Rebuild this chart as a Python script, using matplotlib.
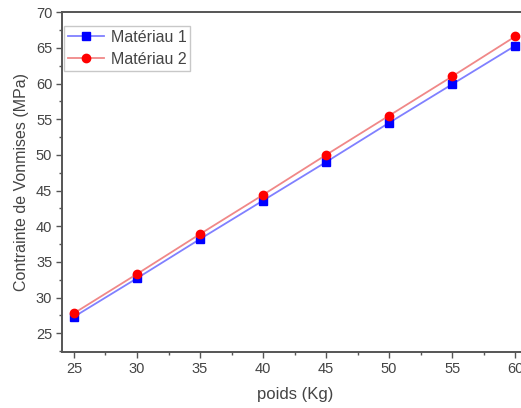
import matplotlib
matplotlib.use("Agg")
import matplotlib.pyplot as plt
from matplotlib.ticker import MultipleLocator

plt.rcParams['font.family'] = ['Liberation Sans', 'DejaVu Sans']

poids = [25, 30, 35, 40, 45, 50, 55, 60]
materiau1 = [27.3, 32.7, 38.2, 43.6, 49.0, 54.5, 59.9, 65.3]
materiau2 = [27.8, 33.3, 38.9, 44.4, 50.0, 55.5, 61.0, 66.6]

fig = plt.figure(figsize=(5.21, 4.08), dpi=100)
ax = fig.add_axes([0.119, 0.137, 0.894, 0.833])

ax.plot(poids, materiau1, color='#8080ff', lw=1.3, marker='s', ms=5.5,
        mfc='#0000ff', mec='#0000ff', label='Matériau 1')
ax.plot(poids, materiau2, color='#f08888', lw=1.3, marker='o', ms=6,
        mfc='#ff0000', mec='#ff0000', label='Matériau 2')

ax.set_xlim(24.05, 61)
ax.set_ylim(22.35, 70)
ax.xaxis.set_major_locator(MultipleLocator(5))
ax.xaxis.set_minor_locator(MultipleLocator(2.5))
ax.yaxis.set_major_locator(MultipleLocator(5))
ax.yaxis.set_minor_locator(MultipleLocator(2.5))

ax.spines['right'].set_visible(False)
for s in ['left', 'bottom', 'top']:
    ax.spines[s].set_color('#555555')
    ax.spines[s].set_linewidth(1.4)

ax.tick_params(which='major', direction='out', length=4, width=1, color='#555555',
               labelsize=10.5, labelcolor='#444444', pad=3)
ax.tick_params(which='minor', direction='out', length=2.5, width=1, color='#555555')
ax.tick_params(axis='x', top=False, which='both')

ax.set_xlabel('poids (Kg)', fontsize=12, color='#444444', labelpad=8)
ax.set_ylabel('Contrainte de Vonmises (MPa)', fontsize=11.5, color='#444444', labelpad=5)

leg = ax.legend(loc='upper left', bbox_to_anchor=(0.0, 0.965), fontsize=11.5,
                frameon=True, fancybox=False, edgecolor='#bbbbbb',
                handlelength=2.3, borderpad=0.25, labelspacing=0.45,
                handletextpad=0.4, borderaxespad=0.1)
for t in leg.get_texts():
    t.set_color('#444444')

fig.savefig('out.png', dpi=100)
